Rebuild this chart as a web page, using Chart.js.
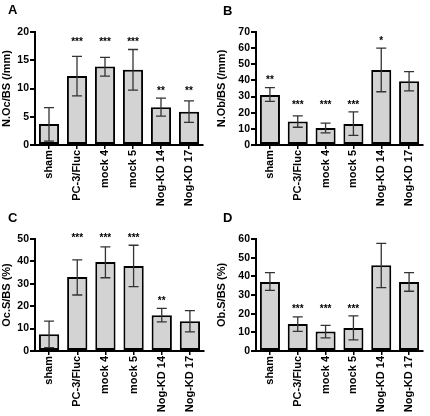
<!DOCTYPE html>
<html>
<head>
<meta charset="utf-8">
<script src="https://cdn.jsdelivr.net/npm/chart.js@4.4.1/dist/chart.umd.min.js"></script>
<style>
  body { margin: 0; background: #fff; width: 430px; height: 416px; position: relative; overflow: hidden; }
  .panel { position: absolute; width: 215px; height: 208px; }
  .letter { position: absolute; font: bold 13px "Liberation Sans", Arial, sans-serif; color: #000; line-height: 1; }
</style>
</head>
<body>
<div class="panel" style="left:0;top:0"><canvas id="chartA" width="215" height="208"></canvas></div>
<div class="panel" style="left:215px;top:0"><canvas id="chartB" width="215" height="208"></canvas></div>
<div class="panel" style="left:0;top:208px"><canvas id="chartC" width="215" height="208"></canvas></div>
<div class="panel" style="left:215px;top:208px"><canvas id="chartD" width="215" height="208"></canvas></div>
<div class="letter" style="left:8px;top:3px">A</div>
<div class="letter" style="left:223px;top:4px">B</div>
<div class="letter" style="left:8px;top:211px">C</div>
<div class="letter" style="left:223px;top:211px">D</div>
<script>
const categories = ["sham", "PC-3/Fluc", "mock 4", "mock 5", "Nog-KD 14", "Nog-KD 17"];

// A: osteoclast number
const ocNumber = [3.7, 12.2, 13.9, 13.3, 6.7, 5.9];
const ocNumberLow = [0.7, 8.7, 12.2, 9.7, 5.1, 4.0];
const ocNumberHigh = [6.6, 15.7, 15.5, 16.9, 8.3, 7.8];
const ocNumberStars = ["", "***", "***", "***", "**", "**"];

// B: osteoblast number
const obNumber = [31, 14.5, 10.5, 13, 46.5, 39.5];
const obNumberLow = [27, 11, 7.5, 6, 33, 33.5];
const obNumberHigh = [35.5, 18, 13.5, 20.5, 60, 45.5];
const obNumberStars = ["**", "***", "***", "***", "*", ""];

// C: osteoclast surface
const ocSurface = [7.5, 33, 39.7, 38, 16, 13.3];
const ocSurfaceLow = [1.5, 25, 32.7, 28.7, 13, 8.5];
const ocSurfaceHigh = [13.3, 40.7, 46.5, 47.2, 19, 18];
const ocSurfaceStars = ["", "***", "***", "***", "**", ""];

// D: osteoblast surface
const obSurface = [37, 14.5, 10.5, 12.3, 46, 37];
const obSurfaceLow = [32.5, 10.5, 7, 6, 34, 32];
const obSurfaceHigh = [42, 18.3, 13.7, 18.8, 57.7, 42];
const obSurfaceStars = ["", "***", "***", "***", "", ""];

const fontFamily = '"Liberation Sans", Arial, sans-serif';

// error bars + significance stars
const errorBars = {
  id: "errorBars",
  afterDatasetsDraw(chart) {
    const ctx = chart.ctx;
    const y = chart.scales.y;
    chart.data.datasets.forEach((ds, di) => {
      const meta = chart.getDatasetMeta(di);
      ctx.save();
      ctx.strokeStyle = "#333";
      ctx.lineWidth = 1.3;
      meta.data.forEach((bar, i) => {
        const x = bar.x;
        const lo = y.getPixelForValue(ds.errLow[i]);
        const hi = y.getPixelForValue(ds.errHigh[i]);
        ctx.beginPath();
        ctx.moveTo(x, lo); ctx.lineTo(x, hi);
        ctx.moveTo(x - 5, lo); ctx.lineTo(x + 5, lo);
        ctx.moveTo(x - 5, hi); ctx.lineTo(x + 5, hi);
        ctx.stroke();
      });
      // stars: neighbours with the same mark share the highest whisker
      ctx.fillStyle = "#000";
      ctx.font = "bold 10px " + fontFamily;
      ctx.textAlign = "center";
      ctx.textBaseline = "middle";
      const stars = ds.stars;
      let i = 0;
      while (i < stars.length) {
        let j = i;
        while (j + 1 < stars.length && stars[j + 1] === stars[i]) j++;
        if (stars[i]) {
          let top = -Infinity;
          for (let k = i; k <= j; k++) top = Math.max(top, ds.errHigh[k]);
          const ty = y.getPixelForValue(top) - 7;
          for (let k = i; k <= j; k++) ctx.fillText(stars[k], meta.data[k].x, ty);
        }
        i = j + 1;
      }
      ctx.restore();
    });
  },
};

function makeChart(id, values, low, high, stars, max, step, title, yWidth, pad, xHeight) {
  const ctx = document.getElementById(id).getContext("2d");
  return new Chart(ctx, {
    type: "bar",
    data: {
      labels: categories,
      datasets: [
        {
          data: values,
          errLow: low,
          errHigh: high,
          stars: stars,
          backgroundColor: "#d3d3d3",
          borderColor: "#000",
          borderWidth: 2,
          borderSkipped: false,
          barPercentage: 0.72,
          categoryPercentage: 1,
        },
      ],
    },
    options: {
      responsive: false,
      animation: false,
      devicePixelRatio: 1,
      layout: { padding: pad },
      plugins: { legend: { display: false }, tooltip: { enabled: false } },
      scales: {
        x: {
          grid: { drawOnChartArea: false, offset: false, tickLength: 4, color: "#000", lineWidth: 1.5 },
          border: { color: "#000", width: 2 },
          ticks: {
            autoSkip: false, minRotation: 90, maxRotation: 90, padding: 1, color: "#000",
            font: { family: fontFamily, size: 11, weight: "bold" },
          },
          afterFit: (s) => { s.height = xHeight; },
        },
        y: {
          min: 0, max: max,
          grid: { drawOnChartArea: false, tickLength: 5, color: "#000", lineWidth: 2 },
          border: { color: "#000", width: 2 },
          ticks: {
            stepSize: step, autoSkip: false, padding: 1, color: "#000",
            callback: (v) => String(v),
            font: { family: fontFamily, size: 10.5, weight: "bold" },
          },
          title: {
            display: true, text: title, color: "#000", padding: { top: 0, bottom: 0 },
            font: { family: fontFamily, size: 11, weight: "bold" },
          },
          afterFit: (s) => { s.width = yWidth; },
        },
      },
    },
    plugins: [errorBars],
  });
}

makeChart("chartA", ocNumber, ocNumberLow, ocNumberHigh, ocNumberStars, 20, 5, "N.Oc/BS (/mm)", 35, { top: 32, right: 12 }, 63);
makeChart("chartB", obNumber, obNumberLow, obNumberHigh, obNumberStars, 70, 10, "N.Ob/BS (/mm)", 41, { top: 32, right: 7 }, 63);
makeChart("chartC", ocSurface, ocSurfaceLow, ocSurfaceHigh, ocSurfaceStars, 50, 10, "Oc.S/BS (%)", 35, { top: 31, right: 11 }, 65);
makeChart("chartD", obSurface, obSurfaceLow, obSurfaceHigh, obSurfaceStars, 60, 10, "Ob.S/BS (%)", 41, { top: 31, right: 7 }, 65);
</script>
</body>
</html>
